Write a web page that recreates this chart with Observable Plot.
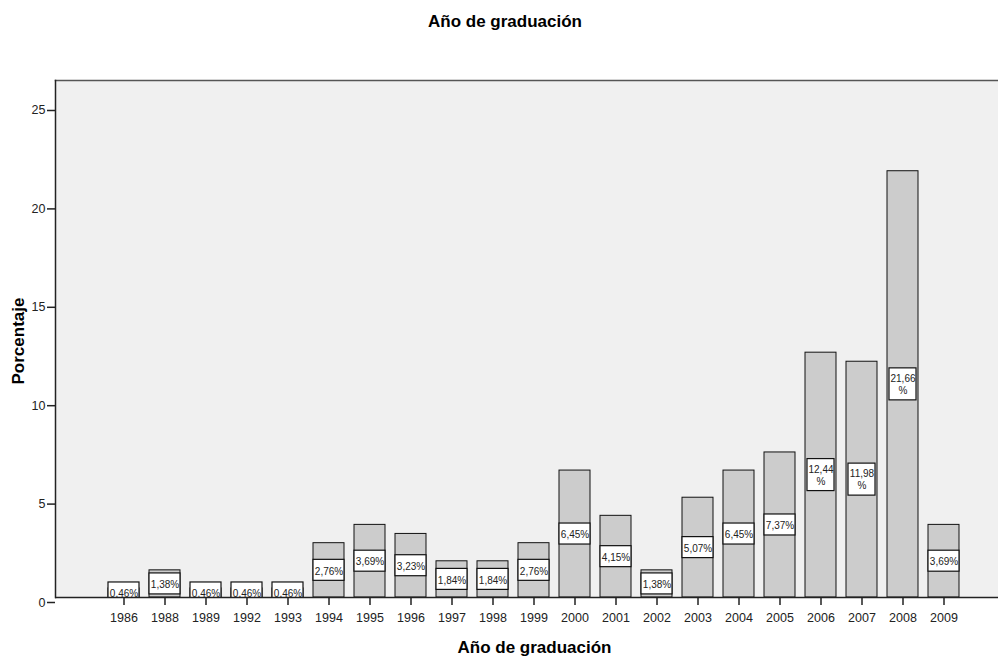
<!DOCTYPE html>
<html>
<head>
<meta charset="utf-8">
<script src="https://cdn.jsdelivr.net/npm/d3@7"></script>
<script src="https://cdn.jsdelivr.net/npm/@observablehq/plot@0.6"></script>
<style>
  html, body { margin: 0; padding: 0; background: #fff; }
  #wrap { position: relative; width: 998px; height: 657px; font-family: "Liberation Sans", Arial, sans-serif; }
  #title { position: absolute; left: 12px; top: 12px; width: 986px; text-align: center; font-weight: bold; font-size: 17px; line-height: 20px; color: #000; }
</style>
</head>
<body>
<div id="wrap">
  <div id="title"></div>
</div>
<script>
const chartTitle = "Año de graduación";
const xLabel = "Año de graduación";
const yLabel = "Porcentaje";
const years = ["1986","1988","1989","1992","1993","1994","1995","1996","1997","1998","1999","2000","2001","2002","2003","2004","2005","2006","2007","2008","2009"];
const percents = [0.46,1.38,0.46,0.46,0.46,2.76,3.69,3.23,1.84,1.84,2.76,6.45,4.15,1.38,5.07,6.45,7.37,12.44,11.98,21.66,3.69];
const yTicks = [0,5,10,15,20,25];

const data = years.map((y, i) => {
  const s = percents[i].toFixed(2).replace(".", ",");
  return {year: y, pct: percents[i], label: s + "%", wrapped: s + "\n%"};
});
const oneLine = data.filter(d => d.pct < 10);
const twoLine = data.filter(d => d.pct >= 10);

document.getElementById("title").textContent = chartTitle;

const chart = Plot.plot({
  width: 998,
  height: 657,
  marginTop: 80,
  marginBottom: 60,
  marginLeft: 55,
  marginRight: 0,
  style: {fontFamily: "'Liberation Sans', Arial, sans-serif", background: "transparent"},
  x: {type: "band", domain: years, range: [107.8, 959.8], paddingInner: 0.245, paddingOuter: 0},
  y: {domain: [0, 26.27]},
  marks: [
    Plot.frame({fill: "#f0f0f0", stroke: null}),
    Plot.frame({anchor: "top", stroke: "#555", strokeWidth: 1.5}),
    Plot.frame({anchor: "left", stroke: "#222", strokeWidth: 1.5}),
    Plot.barY(data, {x: "year", y: "pct", fill: "#cccccc", stroke: "#111", strokeWidth: 1}),
    Plot.barY(oneLine, {x: "year", y1: d => d.pct / 2, y2: d => d.pct / 2, insetTop: -10.5, insetBottom: -10.5, fill: "#fff", stroke: "#111", strokeWidth: 1.2, clip: "frame"}),
    Plot.barY(twoLine, {x: "year", y1: d => d.pct / 2, y2: d => d.pct / 2, insetTop: -16, insetBottom: -16, insetLeft: 2, insetRight: 2, fill: "#fff", stroke: "#111", strokeWidth: 1.2, clip: "frame"}),
    Plot.text(oneLine, {x: "year", y: d => d.pct / 2, text: "label", fontSize: 10, dy: 1, fill: "#222", clip: "frame"}),
    Plot.text(twoLine, {x: "year", y: d => d.pct / 2, text: "wrapped", fontSize: 10, fill: "#222", lineHeight: 1.2, clip: "frame"}),
    Plot.ruleY([0], {stroke: "#222", strokeWidth: 1.5}),
    Plot.axisY({ticks: yTicks, tickSize: 8, tickPadding: 2, dy: 5, fontSize: 12.5, label: null, stroke: "#222", strokeWidth: 1.5, fill: "#222"}),
    Plot.axisX({tickSize: 8, tickPadding: 8, fontSize: 12.5, label: null, stroke: "#222", strokeWidth: 1.5, fill: "#222"}),
    Plot.text([xLabel], {frameAnchor: "bottom", text: d => d, textAnchor: "middle", lineAnchor: "middle", dx: 7.5, dy: 50, fontSize: 17, fontWeight: "bold", fill: "#000"}),
    Plot.text([yLabel], {frameAnchor: "left", text: d => d, textAnchor: "middle", lineAnchor: "middle", rotate: -90, dx: -37, dy: 2, fontSize: 17, fontWeight: "bold", fill: "#000"})
  ]
});
document.getElementById("wrap").appendChild(chart);
</script>
</body>
</html>
